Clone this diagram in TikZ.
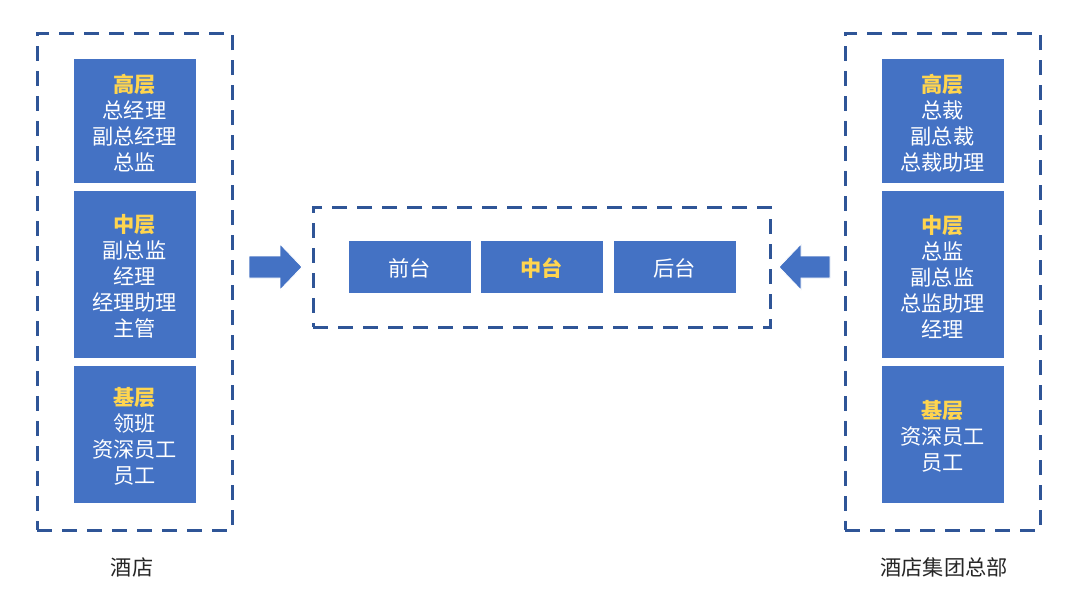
\documentclass[tikz,border=0pt]{standalone}
\usepackage{fontspec}
\setmainfont{Noto Sans CJK SC}
\definecolor{boxblue}{HTML}{4472C4}
\definecolor{dashblue}{HTML}{2F5597}
\definecolor{lvl}{HTML}{FFD54F}
\definecolor{lbl}{HTML}{262626}
\newcommand{\lvlt}[1]{{\color{lvl}\bfseries #1}}
\begin{document}
\begin{tikzpicture}[x=0.5pt,y=-0.5pt,
  frame/.style={draw=dashblue,line width=1.5pt,dash pattern=on 7.5pt off 5pt,minimum width=97.5pt,minimum height=248.5pt,inner sep=0pt},
  bluebox/.style={fill=boxblue,draw=white,line width=0.4pt,minimum width=61.5pt,inner sep=0pt},
  boxtext/.style={text=white,align=center,font=\fontsize{10.6pt}{13pt}\selectfont,inner sep=0pt},
  arrowshape/.style={fill=boxblue,draw=white,line width=0.4pt},
  caption/.style={text=lbl,font=\fontsize{10.6pt}{12pt}\selectfont}]
\useasboundingbox (0,0) rectangle (1080,602);
\fill[white] (0,0) rectangle (1080,602);
% left frame
\node[frame] (lf) at (134.5,281.5) {};
\node[bluebox,minimum height=62.5pt] (l1) at (134.5,120.5) {};
\node[boxtext] (l1t) at (134.5,123) {\lvlt{高层}\\总经理\\副总经理\\总监};
\node[bluebox,minimum height=84pt] (l2) at (134.5,274) {};
\node[boxtext] (l2t) at (134.5,276.5) {\lvlt{中层}\\副总监\\经理\\经理助理\\主管};
\node[bluebox,minimum height=69pt] (l3) at (134.5,434) {};
\node[boxtext] (l3t) at (134.5,436.5) {\lvlt{基层}\\领班\\资深员工\\员工};
\node[caption] (lc) at (132,567) {酒店};
% right frame
\node[frame] (rf) at (942.5,281.5) {};
\node[bluebox,minimum height=62.5pt] (r1) at (942.5,120.5) {};
\node[boxtext] (r1t) at (942.5,123) {\lvlt{高层}\\总裁\\副总裁\\总裁助理};
\node[bluebox,minimum height=84pt] (r2) at (942.5,274) {};
\node[boxtext] (r2t) at (942.5,276.5) {\lvlt{中层}\\总监\\副总监\\总监助理\\经理};
\node[bluebox,minimum height=69pt] (r3) at (942.5,434) {};
\node[boxtext] (r3t) at (942.5,436.5) {\lvlt{基层}\\资深员工\\员工};
\node[caption] (rc) at (944,567) {酒店集团总部};
% middle frame
\node[frame,minimum width=228.5pt,minimum height=60pt] (mf) at (541.5,267) {};
\node[bluebox,minimum height=26.5pt] (m1) at (409.5,266.5) {};
\node[boxtext] (m1t) at (409.5,268) {前台};
\node[bluebox,minimum height=26.5pt] (m2) at (541.5,266.5) {};
\node[boxtext] (m2t) at (541.5,268) {\lvlt{中台}};
\node[bluebox,minimum height=26.5pt] (m3) at (674.5,266.5) {};
\node[boxtext] (m3t) at (674.5,268) {后台};
% arrows
\fill[arrowshape] (249,256) -- (280,256) -- (280,244) -- (302,267) -- (280,290) -- (280,278) -- (249,278) -- cycle;
\fill[arrowshape] (830,256) -- (801,256) -- (801,244) -- (779,267) -- (801,290) -- (801,278) -- (830,278) -- cycle;
\end{tikzpicture}
\end{document}
